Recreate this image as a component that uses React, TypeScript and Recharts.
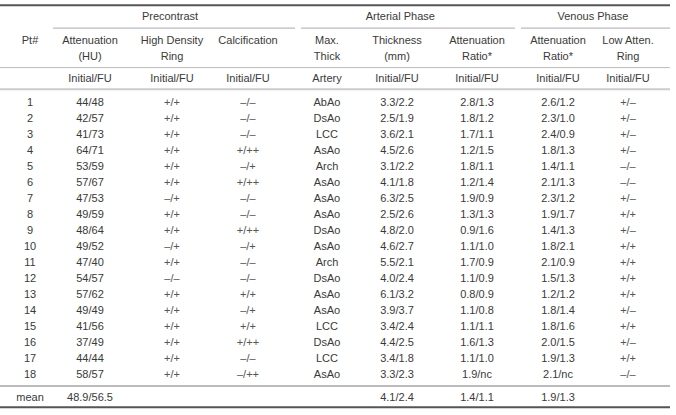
import { ScatterChart, Scatter, XAxis, YAxis, ReferenceLine } from 'recharts';

const ptIds = ['1', '2', '3', '4', '5', '6', '7', '8', '9', '10', '11', '12', '13', '14', '15', '16', '17', '18'];
const attenuationHU = ['44/48', '42/57', '41/73', '64/71', '53/59', '57/67', '47/53', '49/59', '48/64', '49/52', '47/40', '54/57', '57/62', '49/49', '41/56', '37/49', '44/44', '58/57'];
const highDensityRing = ['+/+', '+/+', '+/+', '+/+', '+/+', '+/+', '–/+', '+/+', '+/+', '–/+', '+/+', '–/–', '+/+', '+/+', '+/+', '+/+', '+/+', '+/+'];
const calcification = ['–/–', '–/–', '–/–', '+/++', '–/+', '+/++', '–/–', '–/–', '+/++', '–/+', '–/–', '–/–', '+/+', '–/+', '+/+', '+/++', '–/–', '–/++'];
const artery = ['AbAo', 'DsAo', 'LCC', 'AsAo', 'Arch', 'AsAo', 'AsAo', 'AsAo', 'DsAo', 'AsAo', 'Arch', 'DsAo', 'AsAo', 'AsAo', 'LCC', 'DsAo', 'LCC', 'AsAo'];
const thickness = ['3.3/2.2', '2.5/1.9', '3.6/2.1', '4.5/2.6', '3.1/2.2', '4.1/1.8', '6.3/2.5', '2.5/2.6', '4.8/2.0', '4.6/2.7', '5.5/2.1', '4.0/2.4', '6.1/3.2', '3.9/3.7', '3.4/2.4', '4.4/2.5', '3.4/1.8', '3.3/2.3'];
const arterialRatio = ['2.8/1.3', '1.8/1.2', '1.7/1.1', '1.2/1.5', '1.8/1.1', '1.2/1.4', '1.9/0.9', '1.3/1.3', '0.9/1.6', '1.1/1.0', '1.7/0.9', '1.1/0.9', '0.8/0.9', '1.1/0.8', '1.1/1.1', '1.6/1.3', '1.1/1.0', '1.9/nc'];
const venousRatio = ['2.6/1.2', '2.3/1.0', '2.4/0.9', '1.8/1.3', '1.4/1.1', '2.1/1.3', '2.3/1.2', '1.9/1.7', '1.4/1.3', '1.8/2.1', '2.1/0.9', '1.5/1.3', '1.2/1.2', '1.8/1.4', '1.8/1.6', '2.0/1.5', '1.9/1.3', '2.1/nc'];
const lowAttenRing = ['+/–', '+/–', '+/–', '+/–', '–/–', '–/–', '+/–', '+/+', '+/–', '+/+', '+/+', '+/+', '+/+', '+/–', '+/+', '+/–', '+/+', '–/–'];
const meanRow = ['mean', '48.9/56.5', '', '', '', '4.1/2.4', '1.4/1.1', '1.9/1.3', ''];

const groupHeaders = [
  { label: 'Precontrast', cols: [1, 2, 3] },
  { label: 'Arterial Phase', cols: [4, 5, 6] },
  { label: 'Venous Phase', cols: [7, 8] },
];
const subHeaderLine1 = ['Pt#', 'Attenuation', 'High Density', 'Calcification', 'Max.', 'Thickness', 'Attenuation', 'Attenuation', 'Low Atten.'];
const subHeaderLine2 = ['', '(HU)', 'Ring', '', 'Thick', '(mm)', 'Ratio*', 'Ratio*', 'Ring'];
const unitRow = ['', 'Initial/FU', 'Initial/FU', 'Initial/FU', 'Artery', 'Initial/FU', 'Initial/FU', 'Initial/FU', 'Initial/FU'];

const columns = [ptIds, attenuationHU, highDensityRing, calcification, artery, thickness, arterialRatio, venousRatio, lowAttenRing];

// layout: column centres (x units) and row slots (y units, body row i at y = i)
const W = 676;
const H = 415;
const colX = [30, 90, 172, 248, 327, 397, 477, 558, 628];
const groupSpan = [[53, 295], [301, 515], [521, 670]];
const ROW_PX = 16;
const FIRST_ROW_PX = 102;
const yDomain = [-FIRST_ROW_PX / ROW_PX, (H - FIRST_ROW_PX) / ROW_PX];
const Y_GROUP = -5.4;
const Y_SUB1 = -3.85;
const Y_SUB2 = -2.85;
const Y_UNIT = -1.5;
const Y_MEAN = 18.45;

type Cell = { x: number; y: number; text: string; sym?: boolean };

const cells: Cell[] = [];
groupHeaders.forEach((g) => {
  const cx = g.cols.reduce((s, c) => s + colX[c], 0) / g.cols.length;
  cells.push({ x: cx, y: Y_GROUP, text: g.label });
});
subHeaderLine1.forEach((t, c) => t && cells.push({ x: colX[c], y: Y_SUB1, text: t }));
subHeaderLine2.forEach((t, c) => t && cells.push({ x: colX[c], y: Y_SUB2, text: t }));
unitRow.forEach((t, c) => t && cells.push({ x: colX[c], y: Y_UNIT, text: t }));
columns.forEach((col, c) =>
  col.forEach((t, i) => cells.push({ x: colX[c], y: i, text: t, sym: c === 2 || c === 3 || c === 8 })),
);
meanRow.forEach((t, c) => t && cells.push({ x: colX[c], y: Y_MEAN, text: t }));

const TextCell = (props: any) => {
  const { cx, cy, payload } = props;
  return (
    <text x={cx} y={cy} textAnchor="middle" dominantBaseline="central" fontSize={11}
      fill={payload.sym ? '#555' : '#3a3a3a'} fontFamily="'Liberation Sans', Arial, sans-serif">
      {payload.text}
    </text>
  );
};

export default function App() {
  return (
    <div style={{ width: W, height: H, background: '#fff' }}>
      <style>{'body{margin:0}'}</style>
      <ScatterChart width={W} height={H} margin={{ top: 0, right: 0, bottom: 0, left: 0 }}>
        <XAxis type="number" dataKey="x" domain={[0, W]} hide />
        <YAxis type="number" dataKey="y" domain={yDomain} reversed hide />
        <ReferenceLine segment={[{ x: 0, y: -6.05 }, { x: 670, y: -6.05 }]} stroke="#555" strokeWidth={2} />
        {groupSpan.map((s, i) => (
          <ReferenceLine key={i} segment={[{ x: s[0], y: -4.62 }, { x: s[1], y: -4.62 }]} stroke="#aaa" strokeWidth={1} />
        ))}
        <ReferenceLine segment={[{ x: 0, y: -2.15 }, { x: 670, y: -2.15 }]} stroke="#bbb" strokeWidth={1} />
        <ReferenceLine segment={[{ x: 0, y: -0.8 }, { x: 670, y: -0.8 }]} stroke="#ccc" strokeWidth={2} />
        <ReferenceLine segment={[{ x: 0, y: 17.75 }, { x: 670, y: 17.75 }]} stroke="#bbb" strokeWidth={2} />
        <ReferenceLine segment={[{ x: 0, y: 19.08 }, { x: 670, y: 19.08 }]} stroke="#555" strokeWidth={2} />
        <Scatter data={cells} shape={TextCell} isAnimationActive={false} />
      </ScatterChart>
    </div>
  );
}
